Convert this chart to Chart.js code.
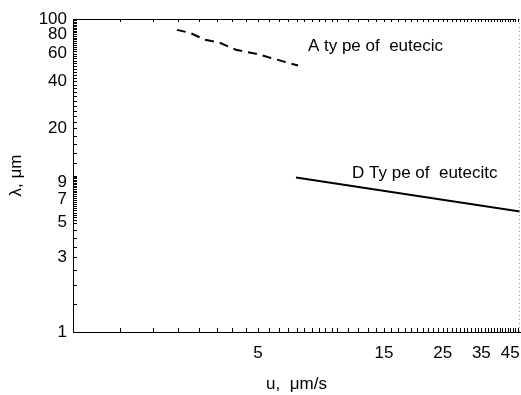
<!DOCTYPE html>
<html>
<head>
<meta charset="utf-8">
<script src="https://cdn.jsdelivr.net/npm/chart.js@4"></script>
<style>
  html, body { margin: 0; padding: 0; background: #fff; overflow: hidden; }
  canvas { display: block; }
</style>
</head>
<body>
<canvas id="chart" width="521" height="395"></canvas>
<script>
// series (u in um/s, lambda in um)
const typeAU = [2.47, 2.77, 3.16, 3.59, 4.13, 4.92, 5.56, 7.09];
const typeALambda = [85.2, 81.5, 73.6, 70.5, 63.6, 60.0, 56.6, 50.4];
const typeDU = [6.97, 49];
const typeDLambda = [9.7, 5.89];

// tick labels shown on the axes
const xLabels = [5, 15, 25, 35, 45];
const yLabels = [1, 3, 5, 7, 9, 20, 40, 60, 80, 100];

// minor tick positions
const xTicks = [];
for (let v = 1; v <= 10; v += 0.5) xTicks.push(v);
for (let v = 11; v <= 48; v += 1) xTicks.push(v);
const yTicks = [];
for (let v = 1; v < 5; v += 0.5) yTicks.push(v);
for (let v = 5; v < 10; v += 0.2) yTicks.push(Math.round(v * 10) / 10);
for (let v = 10; v <= 100; v += 2) yTicks.push(v);

const noteText = ['A ty pe of  eutecic', 'D Ty pe of  eutecitc'];
const noteU = [7.73, 11.35];
const noteLambda = [66.5, 10.4];

const toPoints = (xs, ys) => xs.map((x, i) => ({ x: x, y: ys[i] }));

const FONT = 'Liberation Sans, Arial, sans-serif';

// inward tick marks, frame and in-plot text
const framePlugin = {
  id: 'frame',
  afterDraw(chart) {
    const ctx = chart.ctx;
    const area = chart.chartArea;
    const xs = chart.scales.x;
    const ys = chart.scales.y;
    ctx.save();
    ctx.strokeStyle = '#000';
    ctx.lineWidth = 1;
    ctx.beginPath();
    xTicks.forEach(v => {
      const px = Math.round(xs.getPixelForValue(v)) + 0.5;
      ctx.moveTo(px, area.bottom);
      ctx.lineTo(px, area.bottom - 4);
      ctx.moveTo(px, area.top);
      ctx.lineTo(px, area.top + 3);
    });
    yTicks.forEach(v => {
      const py = Math.round(ys.getPixelForValue(v)) + 0.5;
      ctx.moveTo(area.left, py);
      ctx.lineTo(area.left + 4, py);
    });
    ctx.stroke();

    // top border
    ctx.beginPath();
    ctx.moveTo(area.left, Math.round(area.top) + 0.5);
    ctx.lineTo(area.right - 4, Math.round(area.top) + 0.5);
    ctx.stroke();

    // dotted right border
    ctx.strokeStyle = '#999';
    ctx.setLineDash([1, 3]);
    ctx.beginPath();
    ctx.moveTo(area.right - 0.5, area.top);
    ctx.lineTo(area.right - 0.5, area.bottom);
    ctx.stroke();
    ctx.setLineDash([]);

    ctx.fillStyle = '#000';
    ctx.font = '17px ' + FONT;
    ctx.textAlign = 'left';
    ctx.textBaseline = 'middle';
    noteText.forEach((t, i) => {
      ctx.fillText(t, xs.getPixelForValue(noteU[i]), ys.getPixelForValue(noteLambda[i]));
    });
    ctx.restore();
  }
};

new Chart(document.getElementById('chart'), {
  type: 'line',
  data: {
    datasets: [
      {
        label: 'A type',
        data: toPoints(typeAU, typeALambda),
        borderColor: '#000',
        borderWidth: 2,
        borderDash: [9, 6],
        pointRadius: 0,
        fill: false,
        tension: 0
      },
      {
        label: 'D type',
        data: toPoints(typeDU, typeDLambda),
        borderColor: '#000',
        borderWidth: 2,
        pointRadius: 0,
        fill: false,
        tension: 0
      }
    ]
  },
  options: {
    responsive: false,
    animation: false,
    layout: { padding: { top: 19, right: 1, left: 0, bottom: 0 } },
    plugins: {
      legend: { display: false },
      tooltip: { enabled: false }
    },
    scales: {
      x: {
        type: 'logarithmic',
        min: 1,
        max: 49,
        afterBuildTicks: scale => { scale.ticks = xLabels.map(v => ({ value: v })); },
        afterFit: scale => {
          scale.height = 63;
          scale.paddingLeft = 0;
          scale.paddingRight = 0;
        },
        grid: { display: false, drawTicks: false },
        border: { display: true, color: '#000', width: 1 },
        ticks: {
          autoSkip: false,
          maxRotation: 0,
          padding: 11,
          color: '#000',
          font: { family: FONT, size: 17 },
          callback: v => String(v)
        },
        title: {
          display: true,
          text: 'u,  μm/s',
          color: '#000',
          font: { family: FONT, size: 17 },
          padding: { top: 0, bottom: 0 }
        }
      },
      y: {
        type: 'logarithmic',
        min: 1,
        max: 100,
        afterBuildTicks: scale => { scale.ticks = yLabels.map(v => ({ value: v })); },
        afterFit: scale => { scale.width = 73; },
        grid: { display: false, drawTicks: false },
        border: { display: true, color: '#000', width: 1 },
        ticks: {
          autoSkip: false,
          padding: 6,
          color: '#000',
          font: { family: FONT, size: 17 },
          callback: v => String(v)
        },
        title: {
          display: true,
          text: 'λ, μm',
          color: '#000',
          font: { family: FONT, size: 17 },
          padding: { top: 6, bottom: 0 }
        }
      }
    }
  },
  plugins: [framePlugin]
});
</script>
</body>
</html>
